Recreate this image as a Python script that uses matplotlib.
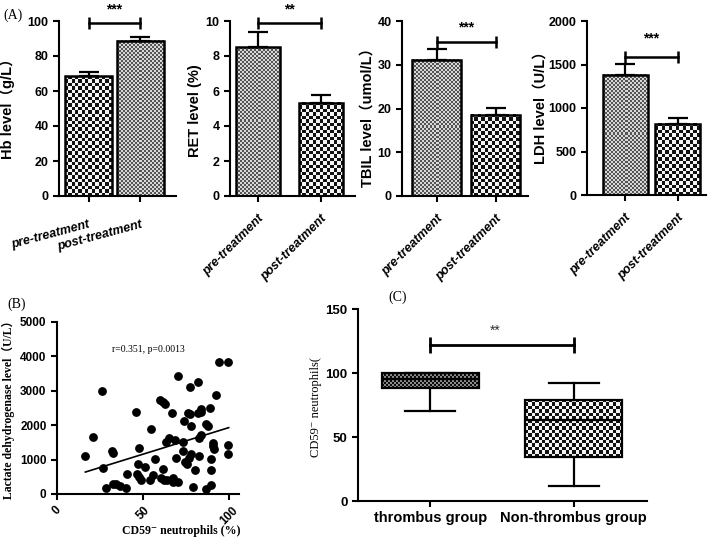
import numpy as np
import matplotlib
matplotlib.use("Agg")
import matplotlib.pyplot as plt
from matplotlib.colors import ListedColormap
from matplotlib.transforms import ScaledTranslation

plt.rcParams["font.family"] = ["Liberation Sans", "Noto Sans CJK SC", "DejaVu Sans"]
SERIF = ["Liberation Serif", "Noto Sans CJK SC", "DejaVu Serif"]

# ---- panel A data ----
groups = ["pre-treatment", "post-treatment"]
hb_mean = [68.3, 88.6]
hb_sem = [2.6, 2.2]
ret_mean = [8.5, 5.33]
ret_sem = [0.85, 0.44]
tbil_mean = [31.2, 18.6]
tbil_sem = [2.4, 1.5]
ldh_mean = [1380, 820]
ldh_sem = [125, 68]

# ---- panel B data (CD59- neutrophils %, LDH U/L) ----
cd59_pct = [16.5, 21.1, 26.2, 26.7, 28.3, 32.2, 32.9, 32.6, 34.5, 36.8,
            39.9, 40.9, 45.9, 46.5, 47.1, 47.7, 47.7, 48.8, 51.0, 53.9,
            55.0, 56.2, 56.9, 59.7, 61.6, 63.0, 60.3, 61.6, 62.2, 63.6,
            64.1, 65.1, 67.1, 67.4, 67.4, 68.6, 69.4, 70.3, 70.7, 73.6,
            73.8, 73.6, 74.8, 75.8, 76.4, 76.9, 77.5, 77.7, 78.3, 78.3,
            79.1, 80.4, 82.4, 82.0, 82.6, 82.9, 83.7, 83.9, 83.7, 86.6,
            87.0, 88.2, 89.0, 89.5, 89.7, 89.9, 90.7, 91.1, 91.7, 92.8,
            99.4, 99.4, 94.2, 99.6]
ldh_ul = [1094, 1665, 2982, 745, 165, 1258, 1200, 290, 290, 232,
          165, 580, 2381, 580, 862, 1336, 484, 406, 784, 406,
          1887, 542, 1026, 2720, 2681, 2623, 455, 726, 406, 1510,
          406, 1617, 2362, 455, 339, 1568, 1045, 3440, 358, 1510,
          2110, 1239, 929, 871, 2362, 1055, 2323, 3110, 1974, 1152,
          194, 697, 3270, 2362, 1104, 1617, 1723, 2468, 2372, 2033,
          145, 1974, 2497, 697, 1026, 261, 1471, 1394, 1307, 2885,
          1423, 1152, 3837, 3837]
stat_text = "r=0.351, p=0.0013"

# ---- panel C data (box plot summary) ----
box_groups = ["thrombus group", "Non-thrombus group"]
box_low = [70, 12]
box_q1 = [88, 34]
box_med = [95, 63.5]
box_q3 = [100, 79]
box_high = [100, 92.5]

W, H = 709, 542
fig = plt.figure(figsize=(W / 100, H / 100), dpi=100)


def px_axes(l, t, r, b):
    return fig.add_axes([l / W, 1 - b / H, (r - l) / W, (b - t) / H])


def checker(ax, x0, x1, y0, y1, cell, dark, light, z):
    p0 = ax.transData.transform((x0, y0))
    p1 = ax.transData.transform((x1, y1))
    nx = max(1, int(round(abs(p1[0] - p0[0]) / cell)))
    ny = max(1, int(round(abs(p1[1] - p0[1]) / cell)))
    grid = np.indices((ny, nx)).sum(axis=0) % 2
    ax.imshow(grid, extent=(x0, x1, y0, y1), origin="lower",
              cmap=ListedColormap([light, dark]), vmin=0, vmax=1,
              interpolation="nearest", aspect="auto", zorder=z)


COARSE = (3.4, "#111111", "#f4f4f4")
FINE = (2.0, "#555555", "#d8d8d8")


def style(ax, fs=9):
    for s in ["top", "right"]:
        ax.spines[s].set_visible(False)
    for s in ["left", "bottom"]:
        ax.spines[s].set_linewidth(1.5)
    ax.tick_params(width=1.5, length=4, labelsize=fs)
    for lab in ax.get_yticklabels() + ax.get_xticklabels():
        lab.set_fontweight("bold")


def bar_panel(box, mean, sem, width, xlim, ylim, yticks, ylabel, lab_xy,
              patterns, sig_y, stars, star_y, rot):
    ax = px_axes(*box)
    ax.set_xlim(*xlim)
    ax.set_ylim(*ylim)
    x = np.arange(len(mean))
    bars = ax.bar(x, mean, width, facecolor="none", edgecolor="black",
                  linewidth=1.8, zorder=3)
    for b, pat in zip(bars, patterns):
        cell, dark, light = pat
        checker(ax, b.get_x(), b.get_x() + b.get_width(), 0, b.get_height(),
                cell, dark, light, 2)
    ax.errorbar(x, mean, yerr=[np.zeros(len(sem)), sem], fmt="none",
                ecolor="black", elinewidth=1.6, capsize=7, capthick=1.6,
                zorder=4)
    ax.plot([0, 1], [sig_y, sig_y], color="black", lw=1.8, marker="|",
            ms=8, mew=1.8, clip_on=False, zorder=5)
    ax.text(0.5, star_y, stars, ha="center", va="center", fontsize=10,
            fontweight="bold", clip_on=False)
    ax.set_yticks(yticks)
    ax.set_xticks(x)
    ax.set_xticklabels(groups, rotation=rot, ha="right", va="top",
                       rotation_mode="anchor", fontsize=9.5,
                       fontstyle="italic")
    if rot == 45:
        ax.tick_params(axis="x", pad=8)
    else:
        ax.tick_params(axis="x", pad=12.5)
        lab = ax.get_xticklabels()[0]
        lab.set_transform(lab.get_transform()
                          + ScaledTranslation(0, -0.045, fig.dpi_scale_trans))
    style(ax, fs=9)
    ax.set_ylabel(ylabel, fontsize=10.5, fontweight="bold")
    ax.yaxis.set_label_coords(*lab_xy)
    return ax


bar_panel((59, 21, 176, 196), hb_mean, hb_sem, 0.9, (-0.57, 1.69), (0, 100),
          range(0, 101, 20), "Hb level（g/L）", (-0.38, 0.52),
          [COARSE, FINE], 99, "***", 106.5, 15)
bar_panel((230, 21, 355, 196), ret_mean, ret_sem, 0.7, (-0.44, 1.54), (0, 10),
          range(0, 11, 2), "RET level (%)", (-0.225, 0.49),
          [FINE, COARSE], 9.87, "**", 10.65, 45)
bar_panel((402, 21, 528, 196), tbil_mean, tbil_sem, 0.83, (-0.59, 1.55),
          (0, 40), range(0, 41, 10), "TBIL level（umol/L）", (-0.22, 0.47),
          [FINE, COARSE], 35.2, "***", 38.5, 45)
bar_panel((587, 21, 706, 195), ldh_mean, ldh_sem, 0.85, (-0.72, 1.53),
          (0, 2000), range(0, 2001, 500), "LDH level（U/L）", (-0.335, 0.52),
          [FINE, COARSE], 1590, "***", 1800, 45)

fig.text(3 / W, 1 - 15 / H, "(A)", family=SERIF, fontsize=10, va="center")

# ---- panel B ----
axb = px_axes(57, 322, 239, 494)
axb.set_xlim(0, 106)
axb.set_ylim(0, 5000)
axb.plot(cd59_pct, ldh_ul, "o", color="black", ms=5.3, zorder=3,
         clip_on=False)
k, c = np.polyfit(cd59_pct, ldh_ul, 1)
fx = np.array([min(cd59_pct), 100])
axb.plot(fx, k * fx + c, color="black", lw=1.2, zorder=2)
axb.set_xticks([0, 50, 100])
axb.set_yticks(range(0, 5001, 1000))
axb.set_xticklabels(["0", "50", "100"], rotation=45, ha="center", va="top")
style(axb, fs=8.5)
axb.text(53, 4190, stat_text, family=SERIF, fontsize=7, ha="center",
         va="center")
axb.set_ylabel("Lactate dehydrogenase level（U/L）", family=SERIF,
               fontsize=8.5, fontweight="bold")
axb.yaxis.set_label_coords(-0.23, 0.506)
axb.set_xlabel("CD59⁻ neutrophils (%)", family=SERIF, fontsize=8.5,
               fontweight="bold")
axb.xaxis.set_label_coords(0.68, -0.18)
fig.text(7 / W, 1 - 304 / H, "(B)", family=SERIF, fontsize=10, va="center")

# ---- panel C ----
axc = px_axes(358, 309, 647, 501)
axc.set_xlim(0.496, 2.512)
axc.set_ylim(0, 150)
stats = [dict(whislo=lo, q1=a, med=m, q3=b, whishi=hi, label=g)
         for lo, a, m, b, hi, g in zip(box_low, box_q1, box_med, box_q3,
                                       box_high, box_groups)]
bp = axc.bxp(stats, positions=[1, 2], widths=0.68, capwidths=0.35,
             showfliers=False, patch_artist=True,
             boxprops=dict(facecolor="none", edgecolor="black", linewidth=1.6),
             whiskerprops=dict(color="black", linewidth=1.6),
             capprops=dict(color="black", linewidth=1.6),
             medianprops=dict(color="black", linewidth=1.6))
for patch, pat in zip(bp["boxes"], [(2.0, "#0c0c0c", "#8a8a8a"), COARSE]):
    patch.set_zorder(3)
    ext = patch.get_path().get_extents()
    checker(axc, ext.x0, ext.x1, ext.y0, ext.y1, pat[0], pat[1], pat[2], 2)
for key in ["whiskers", "caps", "medians"]:
    for ln in bp[key]:
        ln.set_zorder(4)
axc.plot([1, 2], [122, 122], color="black", lw=2, marker="|", ms=11, mew=2)
axc.text(1.45, 133, "**", ha="center", va="center", fontsize=10,
         color="#333333")
axc.set_yticks(range(0, 151, 50))
style(axc, fs=9.5)
for lab in axc.get_xticklabels():
    lab.set_fontsize(10.5)
axc.set_ylabel("CD59⁻ neutrophils(", family=SERIF, fontsize=9)
axc.yaxis.set_label_coords(-0.125, 0.49)
fig.text(388 / W, 1 - 297 / H, "(C)", family=SERIF, fontsize=10, va="center")

fig.savefig("out.png", dpi=100)
